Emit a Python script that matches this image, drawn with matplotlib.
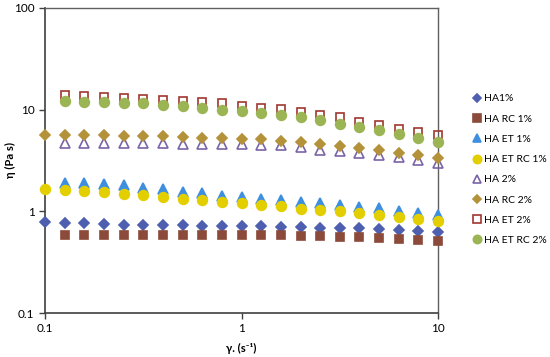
import matplotlib.pyplot as plt
import numpy as np

plt.rcParams['font.family'] = ['Lato', 'DejaVu Sans']

# shear rate (1/s), 10 points per decade
shear_rate = [0.1, 0.126, 0.158, 0.2, 0.251, 0.316, 0.398, 0.501, 0.631, 0.794,
              1.0, 1.26, 1.58, 2.0, 2.51, 3.16, 3.98, 5.01, 6.31, 7.94, 10.0]
shear_rate_no_first = shear_rate[1:]

# viscosity (Pa s)
ha1 = [0.78, 0.77, 0.76, 0.75, 0.74, 0.74, 0.73, 0.73, 0.72, 0.72, 0.71,
       0.71, 0.70, 0.70, 0.69, 0.69, 0.68, 0.67, 0.66, 0.64, 0.62]
ha_rc1 = [0.59, 0.59, 0.59, 0.59, 0.59, 0.59, 0.59, 0.59, 0.59, 0.59,
          0.585, 0.58, 0.575, 0.57, 0.565, 0.555, 0.55, 0.535, 0.525, 0.51]
ha_et1 = [1.92, 1.91, 1.87, 1.80, 1.71, 1.64, 1.55, 1.51, 1.43, 1.39,
          1.31, 1.28, 1.23, 1.20, 1.15, 1.10, 1.07, 1.01, 0.96, 0.91]
ha_et_rc1 = [1.64, 1.61, 1.59, 1.55, 1.49, 1.46, 1.38, 1.33, 1.30, 1.23, 1.20,
             1.16, 1.12, 1.06, 1.02, 1.00, 0.96, 0.91, 0.88, 0.85, 0.80]
ha2 = [4.71, 4.71, 4.71, 4.68, 4.68, 4.65, 4.64, 4.62, 4.60, 4.57,
       4.50, 4.45, 4.30, 4.05, 3.88, 3.72, 3.56, 3.43, 3.22, 3.00]
ha_rc2 = [5.61, 5.61, 5.61, 5.58, 5.50, 5.48, 5.45, 5.40, 5.32, 5.30, 5.20,
          5.09, 4.93, 4.82, 4.57, 4.40, 4.24, 3.99, 3.75, 3.56, 3.38]
ha_et2 = [13.9, 13.6, 13.2, 12.9, 12.7, 12.4, 12.2, 11.9, 11.5, 10.9,
          10.5, 10.1, 9.5, 8.8, 8.4, 7.6, 7.0, 6.5, 6.0, 5.6]
ha_et_rc2 = [12.2, 11.9, 11.9, 11.7, 11.5, 11.1, 10.8, 10.5, 10.0, 9.7,
             9.3, 8.8, 8.5, 7.9, 7.3, 6.8, 6.3, 5.8, 5.3, 4.8]

fig = plt.figure(figsize=(5.5, 3.57), dpi=100)
ax = fig.add_axes([45/550, 44/357, 393/550, 305/357])

# (label, x, y, marker, facecolor, edgecolor, size)
series = [
    ('HA1%', shear_rate, ha1, 'D', '#4F5FB0', '#4F5FB0', 5),
    ('HA RC 1%', shear_rate_no_first, ha_rc1, 's', '#8B4A3A', '#8B4A3A', 6),
    ('HA ET 1%', shear_rate_no_first, ha_et1, '^', '#3F8FE0', '#3F8FE0', 6.5),
    ('HA ET RC 1%', shear_rate, ha_et_rc1, 'o', '#E3CF00', '#E3CF00', 7),
    ('HA 2%', shear_rate_no_first, ha2, '^', 'none', '#7A64A8', 6.5),
    ('HA RC 2%', shear_rate, ha_rc2, 'D', '#B3923A', '#B3923A', 5),
    ('HA ET 2%', shear_rate_no_first, ha_et2, 's', 'none', '#A0362E', 6),
    ('HA ET RC 2%', shear_rate_no_first, ha_et_rc2, 'o', '#9BB555', '#9BB555', 7),
]

for label, x, y, m, fc, ec, ms in series:
    ax.plot(x, y, linestyle='none', marker=m, markersize=ms,
            markerfacecolor=fc, markeredgecolor=ec, markeredgewidth=1.2,
            label=label, clip_on=False, zorder=3)

ax.set_xscale('log')
ax.set_yscale('log')
ax.set_xlim(0.1, 10)
ax.set_ylim(0.1, 100)
ax.set_xticks([0.1, 1, 10])
ax.set_xticklabels(['0.1', '1', '10'])
ax.set_yticks([0.1, 1, 10, 100])
ax.set_yticklabels(['0.1', '1', '10', '100'])
ax.minorticks_off()
ax.tick_params(direction='out', length=4, width=1, labelsize=8.5, colors='#404040',
               labelcolor='black')

for s in ['left', 'bottom']:
    ax.spines[s].set_color('#404040')
    ax.spines[s].set_linewidth(1.2)
for s in ['top', 'right']:
    ax.spines[s].set_color('#606060')
    ax.spines[s].set_linewidth(1.0)

ax.set_xlabel('γ. (s⁻¹)', fontsize=8, fontweight='bold', labelpad=6)
ax.set_ylabel('η (Pa s)', fontsize=8, fontweight='bold')
ax.yaxis.set_label_coords(-0.075, 0.5)

ax.legend(loc='center left', bbox_to_anchor=(1.075, 0.47), frameon=False,
          fontsize=7.5, handletextpad=0.15, labelspacing=1.05, handlelength=1.0,
          borderaxespad=0, markerscale=0.85)

fig.savefig('out.png', dpi=100)
